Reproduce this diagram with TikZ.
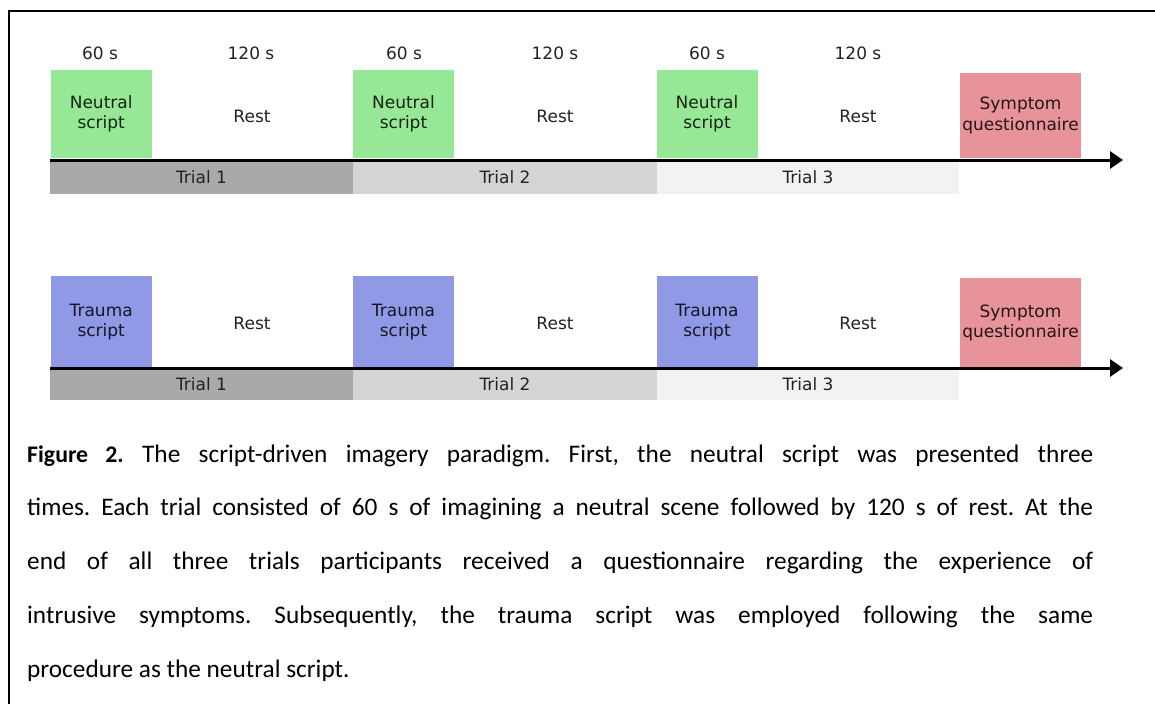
\documentclass[tikz,border=0pt]{standalone}
\usepackage{fontspec}
\usetikzlibrary{arrows.meta}
\newfontfamily\dvfont{DejaVu Sans}
\newfontfamily\capfont{Carlito}
\definecolor{ngreen}{HTML}{96E896}
\definecolor{tblue}{HTML}{9099E6}
\definecolor{spink}{HTML}{E8939A}
\definecolor{trialA}{HTML}{A9A9A9}
\definecolor{trialB}{HTML}{D4D4D4}
\definecolor{trialC}{HTML}{F2F2F2}
\definecolor{txt}{HTML}{222222}
\begin{document}
\begin{tikzpicture}[x=1pt,y=-1pt,
  lbl/.style={font=\dvfont\fontsize{17}{20.5}\selectfont, text=txt, inner sep=0pt, align=center},
  blk/.style={lbl, minimum width=101pt, minimum height=88pt},
  neutral/.style={blk, fill=ngreen, text=black!85!ngreen},
  trauma/.style={blk, fill=tblue, text=black!85!tblue, minimum height=92pt},
  symp/.style={blk, fill=spink, text=black!85!spink, minimum width=121pt},
  trial/.style={lbl, minimum height=34pt},
  axis/.style={line width=3pt, -{Triangle[length=13pt,width=17pt]}},
  frame/.style={line width=2pt}
]
\useasboundingbox (0,0) rectangle (1155,704);
\draw[frame] (1155,11) -- (8.5,11) -- (8.5,704);

% ---------- top row (neutral) ----------
\node[lbl] (t60a) at (100,53) {60 s};
\node[lbl] (t120a) at (251,53) {120 s};
\node[lbl] (t60b) at (404,53) {60 s};
\node[lbl] (t120b) at (555,53) {120 s};
\node[lbl] (t60c) at (707,53) {60 s};
\node[lbl] (t120c) at (858,53) {120 s};

\node[neutral] (n1) at (101.2,114) {Neutral\\script};
\node[neutral] (n2) at (403.5,114) {Neutral\\script};
\node[neutral] (n3) at (707,114) {Neutral\\script};
\node[symp, minimum height=85pt] (s1) at (1020.5,115.5) {Symptom\\questionnaire};

\node[lbl] (r1) at (252,116) {Rest};
\node[lbl] (r2) at (555,116) {Rest};
\node[lbl] (r3) at (858,116) {Rest};

\node[trial, fill=trialA, minimum width=303pt] (tr1) at (201.5,177) {Trial 1};
\node[trial, fill=trialB, minimum width=304pt] (tr2) at (505,177) {Trial 2};
\node[trial, fill=trialC, minimum width=302pt] (tr3) at (808,177) {Trial 3};

\coordinate (axAs) at (50,160);
\coordinate (axAe) at (1123,160);
\draw[axis] (axAs) -- (axAe);

% ---------- bottom row (trauma) ----------
\node[trauma] (m1) at (101.2,322) {Trauma\\script};
\node[trauma] (m2) at (403.5,322) {Trauma\\script};
\node[trauma] (m3) at (707,322) {Trauma\\script};
\node[symp, minimum height=90pt] (s2) at (1020.5,323) {Symptom\\questionnaire};

\node[lbl] (q1) at (252,323) {Rest};
\node[lbl] (q2) at (555,323) {Rest};
\node[lbl] (q3) at (858,323) {Rest};

\node[trial, fill=trialA, minimum width=303pt, minimum height=32pt] (ub1) at (201.5,384) {Trial 1};
\node[trial, fill=trialB, minimum width=304pt, minimum height=32pt] (ub2) at (505,384) {Trial 2};
\node[trial, fill=trialC, minimum width=302pt, minimum height=32pt] (ub3) at (808,384) {Trial 3};

\coordinate (axBs) at (50,368);
\coordinate (axBe) at (1123,368);
\draw[axis] (axBs) -- (axBe);

% ---------- caption ----------
\node[anchor=base west, text width=1066pt, align=justify, inner sep=0pt,
      font=\capfont\fontsize{25.3}{53.75}\selectfont] (cap) at (27,462)
{\frenchspacing\hyphenpenalty=10000 \exhyphenpenalty=10000
{\fontsize{23.8}{53.75}\selectfont\bfseries Figure 2.} The script-driven imagery paradigm. First, the neutral script was presented three\linebreak
times. Each trial consisted of 60 s of imagining a neutral scene followed by 120 s of rest. At the\linebreak
end of all three trials participants received a questionnaire regarding the experience of\linebreak
intrusive symptoms. Subsequently, the trauma script was employed following the same\linebreak
procedure as the neutral script.};
\end{tikzpicture}
\end{document}
